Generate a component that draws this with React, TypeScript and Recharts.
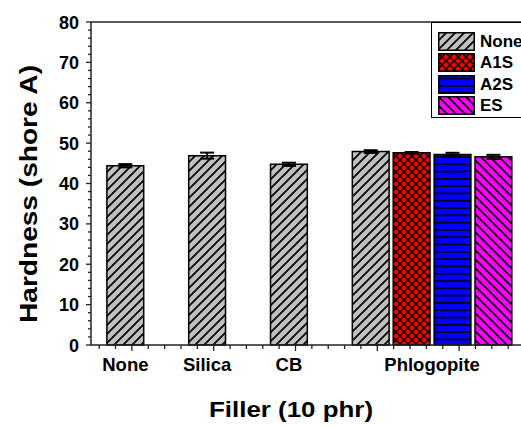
import React from "react";
import {
    ComposedChart,
    Bar,
    Cell,
    ErrorBar,
    XAxis,
    YAxis,
    ReferenceLine,
    Legend,
    Label
} from "recharts";

// bar positions on the numeric x axis (Origin style layout)
const barPos = [0.92, 1.92, 2.92, 3.92, 4.42, 4.92, 5.42];
const hardness = [44.4, 46.9, 44.75, 47.9, 47.6, 47.2, 46.6];
const hardnessErr = [0.4, 0.75, 0.4, 0.35, 0.2, 0.4, 0.5];
const barSeries = ["None", "None", "None", "None", "A1S", "A2S", "ES"];

const fillerNames = ["None", "Silica", "CB", "Phlogopite"];
const fillerPos = [0.92, 1.92, 2.92, 4.67];

const legendNames = ["None", "A1S", "A2S", "ES"];
const patternIds: Record<string, string> = {
    None: "pat-none",
    A1S: "pat-a1s",
    A2S: "pat-a2s",
    ES: "pat-es"
};

const X_DOMAIN: [number, number] = [0.5, 5.83];
const yTicks = Array.from({ length: 41 }, (_, i) => i * 2);
const xTicks = Array.from({ length: 27 }, (_, i) => Math.round((0.6 + i * 0.2) * 10) / 10);

const data = barPos.map((x, i) => ({
    x,
    hardness: hardness[i],
    err: hardnessErr[i],
    series: barSeries[i]
}));

const FONT = "'Liberation Sans', Arial, sans-serif";
const AXIS = "#222";

const isMajor = (v: number) => Math.abs(v - Math.round(v)) < 1e-6;

const YTick = (props: any) => {
    const { x, y, payload } = props;
    const v = payload.value;
    const major = v % 10 === 0;
    return (
        <g>
            <line x1={x - (major ? 5 : 3)} x2={x} y1={y} y2={y} stroke={AXIS} strokeWidth={1.3} />
            {major && (
                <text x={x - 12} y={y + 6.5} textAnchor="end" fontFamily={FONT} fontWeight="bold" fontSize={18} fill="#000">
                    {v}
                </text>
            )}
        </g>
    );
};

const XTick = (props: any) => {
    const { x, y, payload } = props;
    const major = isMajor(payload.value);
    return <line x1={x} x2={x} y1={y} y2={y + (major ? 6 : 4)} stroke={AXIS} strokeWidth={1.3} />;
};

const NameTick = (props: any) => {
    const { x, y, payload } = props;
    const idx = fillerPos.indexOf(payload.value);
    return (
        <text x={x} y={y + 18} textAnchor="middle" fontFamily={FONT} fontWeight="bold" fontSize={18.5} fill="#000">
            {fillerNames[idx]}
        </text>
    );
};

const LegendBox = () => (
    <div
        style={{
            border: "1px solid #000",
            background: "#fff",
            width: 98,
            height: 96,
            boxSizing: "border-box",
            paddingTop: 8,
            paddingLeft: 6
        }}
    >
        {legendNames.map((name) => (
            <div key={name} style={{ display: "flex", alignItems: "center", height: 21.3 }}>
                <svg width={37} height={19} style={{ display: "block" }}>
                    <rect x={0.75} y={0.75} width={35.5} height={17.5} fill={`url(#${patternIds[name]})`} stroke="#000" strokeWidth={1.5} />
                </svg>
                <span style={{ marginLeft: 5, fontFamily: FONT, fontWeight: "bold", fontSize: 17, color: "#000", lineHeight: "19px" }}>
                    {name}
                </span>
            </div>
        ))}
    </div>
);

export default function App() {
    return (
        <div style={{ position: "absolute", left: 0, top: 0, width: 521, height: 427, overflow: "hidden", background: "#fff" }}>
            <ComposedChart
                width={530}
                height={427}
                data={data}
                margin={{ top: 22, right: 3, bottom: 0, left: 0 }}
            >
                <defs>
                    <pattern id="pat-none" patternUnits="userSpaceOnUse" width={9} height={9}>
                        <rect width={9} height={9} fill="#c0c0c0" />
                        <path d="M0,9 L9,0 M-2,2 L2,-2 M7,11 L11,7" stroke="#000" strokeWidth={1.7} />
                    </pattern>
                    <pattern id="pat-es" patternUnits="userSpaceOnUse" width={9} height={9}>
                        <rect width={9} height={9} fill="#ff00ff" />
                        <path d="M0,0 L9,9 M-2,7 L2,11 M7,-2 L11,2" stroke="#000" strokeWidth={1.7} />
                    </pattern>
                    <pattern id="pat-a1s" patternUnits="userSpaceOnUse" width={8} height={8}>
                        <rect width={8} height={8} fill="#ff0000" />
                        <path d="M0,0 L8,8 M0,8 L8,0" stroke="#000" strokeWidth={1.5} />
                    </pattern>
                    <pattern id="pat-a2s" patternUnits="userSpaceOnUse" width={7} height={7.3}>
                        <rect width={7} height={7.3} fill="#0000ff" />
                        <path d="M0,3.6 L7,3.6" stroke="#000" strokeWidth={1.6} />
                    </pattern>
                </defs>

                <XAxis
                    xAxisId="main"
                    type="number"
                    dataKey="x"
                    domain={X_DOMAIN}
                    ticks={xTicks}
                    interval={0}
                    tickSize={0}
                    tickMargin={0}
                    tickLine={false}
                    tick={<XTick />}
                    axisLine={{ stroke: AXIS, strokeWidth: 1.5 }}
                    height={8}
                    allowDataOverflow
                />
                <XAxis
                    xAxisId="names"
                    type="number"
                    dataKey="x"
                    domain={X_DOMAIN}
                    ticks={fillerPos}
                    interval={0}
                    tickSize={0}
                    tickMargin={0}
                    tickLine={false}
                    axisLine={false}
                    tick={<NameTick />}
                    height={74}
                    allowDataOverflow
                >
                    <Label
                        content={() => (
                            <text x={291} y={417} textAnchor="middle" fontFamily={FONT} fontWeight="bold" fontSize={22} textLength={164} lengthAdjust="spacingAndGlyphs" fill="#000">
                                Filler (10 phr)
                            </text>
                        )}
                    />
                </XAxis>
                <YAxis
                    type="number"
                    domain={[0, 80]}
                    ticks={yTicks}
                    interval={0}
                    tickSize={0}
                    tickMargin={0}
                    tickLine={false}
                    tick={<YTick />}
                    axisLine={{ stroke: AXIS, strokeWidth: 1.5 }}
                    width={91}
                >
                    <Label
                        content={() => (
                            <text
                                x={0}
                                y={0}
                                transform="translate(37,194) rotate(-90)"
                                textAnchor="middle"
                                fontFamily={FONT}
                                fontWeight="bold"
                                fontSize={24}
                                textLength={258}
                                lengthAdjust="spacingAndGlyphs"
                                fill="#000"
                            >
                                Hardness (shore A)
                            </text>
                        )}
                    />
                </YAxis>

                <ReferenceLine xAxisId="main" y={80} stroke={AXIS} strokeWidth={1.5} />

                <Bar xAxisId="main" dataKey="hardness" barSize={41} stroke="#000" strokeWidth={1.5} isAnimationActive={false}>
                    {data.map((d, i) => (
                        <Cell key={i} fill={`url(#${patternIds[d.series]})`} />
                    ))}
                    <ErrorBar dataKey="err" width={7} stroke="#000" strokeWidth={2} direction="y" />
                </Bar>

                <Legend
                    layout="vertical"
                    align="center"
                    verticalAlign="middle"
                    content={<LegendBox />}
                    wrapperStyle={{ position: "absolute", left: 431, top: 22, width: 98 }}
                />
            </ComposedChart>
        </div>
    );
}
